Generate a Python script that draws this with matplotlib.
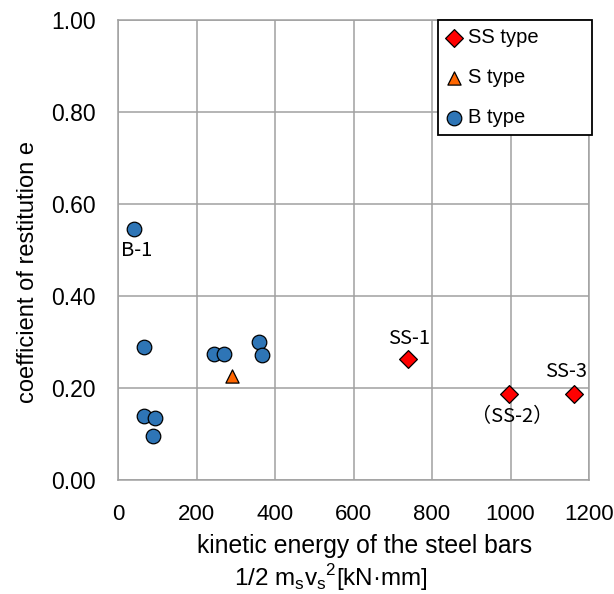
import numpy as np
import matplotlib
matplotlib.use("Agg")
import matplotlib.pyplot as plt

plt.rcParams['font.family'] = ['Liberation Sans', 'DejaVu Sans']

ss_x = [738, 997, 1162]
ss_e = [0.264, 0.186, 0.188]
ss_names = ['SS-1', '（SS-2）', 'SS-3']
ss_name_xy = [(742, 0.307), (1005, 0.137), (1142, 0.235)]

s_x = [291]
s_e = [0.227]

b_x = [42, 67, 245, 269, 359, 367, 65, 93, 88]
b_e = [0.545, 0.290, 0.274, 0.274, 0.300, 0.272, 0.139, 0.134, 0.096]
b_name_xy = (47, 0.50)

xticks = [0, 200, 400, 600, 800, 1000, 1200]
yticks = [0.0, 0.2, 0.4, 0.6, 0.8, 1.0]

fig = plt.figure(figsize=(6.14, 5.94), dpi=100)
ax = fig.add_axes([118/614, 1 - 480/594, 471/614, 460/594])

ax.scatter(ss_x, ss_e, marker='D', s=82, c='#ff0000', edgecolors='black',
           linewidths=0.9, label='SS type', zorder=3)
ax.scatter(s_x, s_e, marker='^', s=90, c='#ff6600', edgecolors='black',
           linewidths=0.9, label='S type', zorder=3)
ax.scatter(b_x, b_e, marker='o', s=110, c='#2e75b6', edgecolors='black',
           linewidths=0.9, label='B type', zorder=3)

lab_font = dict(family=['Noto Sans CJK JP', 'DejaVu Sans'], fontsize=14.5,
                ha='center', va='center')
for name, (tx, ty) in zip(ss_names, ss_name_xy):
    ax.text(tx, ty, name, **lab_font)
ax.text(b_name_xy[0], b_name_xy[1], 'B-1', **lab_font)

ax.set_xlim(0, 1200)
ax.set_ylim(0, 1.0)
ax.set_xticks(xticks)
ax.set_yticks(yticks)
ax.set_yticklabels(['%.2f' % v for v in yticks])
ax.tick_params(length=0, labelsize=16, pad=17)
ax.tick_params(axis='y', labelsize=16.5, pad=16)
ax.grid(True, color='#a0a0a0', linewidth=1.1)
ax.set_axisbelow(True)
for sp in ax.spines.values():
    sp.set_color('#a0a0a0')
    sp.set_linewidth(1.1)

ax.set_ylabel('coefficient of restitution e', fontsize=17)
ax.yaxis.set_label_coords(-0.167, 0.453)

fig.text(365/614, 1 - 546/594, 'kinetic energy of the steel bars',
         fontsize=17.8, ha='center', va='center')
fig.text(331/614, 1 - 578/594, r'1/2 m$_\mathregular{s}$v$_\mathregular{s}$$^\mathregular{2}$[kN·mm]',
         fontsize=17.5, ha='center', va='center')

leg = ax.legend(loc='upper left', bbox_to_anchor=(0.680, 1.0, 0.327, 0.0),
                mode='expand', borderaxespad=0, fontsize=14.5, frameon=True,
                fancybox=False, edgecolor='black', framealpha=1,
                handlelength=0.8, handletextpad=0.3, labelspacing=1.05,
                borderpad=0.4, scatterpoints=1)
leg.get_frame().set_linewidth(1.3)

fig.savefig('out.png', dpi=100)
